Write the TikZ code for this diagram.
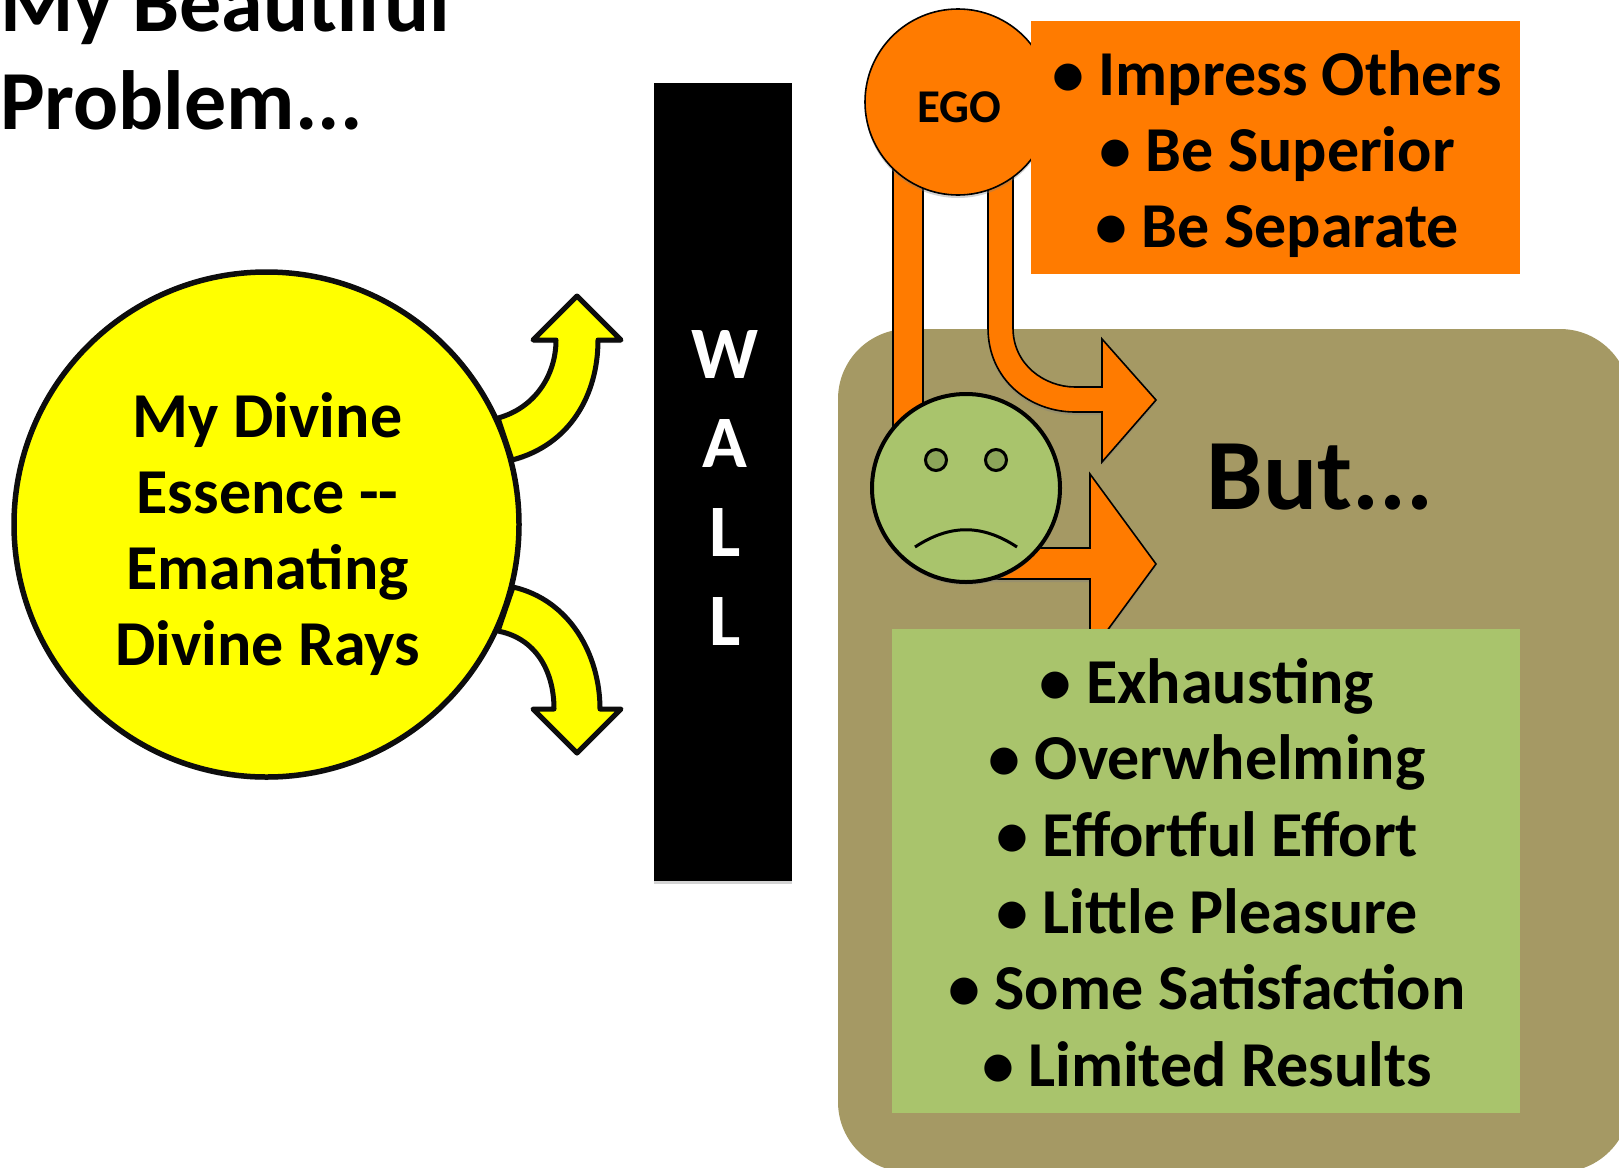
\documentclass[tikz,border=0pt]{standalone}
\usepackage{fontspec}
\setmainfont{Carlito}
\usetikzlibrary{shadows}
\definecolor{tanbox}{HTML}{A59964}
\definecolor{greenbox}{HTML}{A9C46C}
\definecolor{darkgreen}{HTML}{8CA65A}
\definecolor{egoorange}{HTML}{FF7B00}
\definecolor{rayyellow}{HTML}{FFFF00}
\tikzset{
  softshadow/.style={drop shadow={shadow xshift=0pt,shadow yshift=-3pt,opacity=.35}},
  rayarrow/.style={draw=black!95,fill=rayyellow,line width=5pt,line join=round,softshadow},
  egoarrow/.style={draw=black,fill=egoorange,line width=1.6pt,softshadow}
}
\newcommand{\bigtext}[2]{\fontsize{#1}{#2}\selectfont\bfseries}
\begin{document}
\begin{tikzpicture}[x=1pt,y=-1pt]
  \useasboundingbox (0,0) rectangle (1619,1167);

  \node[anchor=base west,align=left,inner sep=0pt,font=\bigtext{84}{98}] (title) at (0,129)
    {My Beautiful\\Problem...};

  % yellow rays
  \path[rayarrow] (512,460) .. controls (570,445) and (598,395) .. (598,340) -- (621,340)
    -- (577,296) -- (533,340) -- (556,340) .. controls (556,375) and (535,408) .. (498,418) -- cycle;
  \path[rayarrow] (513,587) .. controls (570,600) and (600,655) .. (600,709) -- (621,709)
    -- (577,753) -- (533,709) -- (554,709) .. controls (554,670) and (535,638) .. (498,631) -- cycle;
  \node[circle,draw=black!95,fill=rayyellow,line width=5.5pt,minimum size=505pt,inner sep=0pt,
    softshadow] (divine) at (266.5,524.5) {};
  \node[align=center,font=\bigtext{64}{76}] (divinelabel) at (267.5,534)
    {My Divine\\Essence -{}-\\Emanating\\Divine Rays};

  \node[fill=black,minimum width=138pt,minimum height=798pt,inner sep=0pt,softshadow] (wall) at (723,482) {};
  \node[text=white,align=center,font=\bigtext{74}{89}] (walllabel) at (725,488) {W\\A\\L\\L};

  \fill[tanbox,rounded corners=70pt] (838,329) rectangle (1630,1172);

  % ego arrows
  \path[egoarrow] (893,170) rectangle (923,430);
  \path[egoarrow] (988,170) -- (988,328) .. controls (988,380) and (1030,412) .. (1075,412)
    -- (1102,412) -- (1102,462) -- (1156,400) -- (1102,339) -- (1102,387) -- (1075,387)
    .. controls (1045,387) and (1013,365) .. (1013,328) -- (1013,170) -- cycle;
  \path[egoarrow] (960,548) -- (1090,548) -- (1090,474) -- (1156,564) -- (1090,654)
    -- (1090,579) -- (960,579) -- cycle;

  \node[circle,draw=black,fill=egoorange,line width=1.6pt,minimum size=186pt,inner sep=0pt,
    softshadow] (ego) at (958,102) {};
  \node[font=\bigtext{47}{50}] (egolabel) at (959,107) {EGO};
  \node[fill=egoorange,minimum width=489pt,minimum height=253pt,inner sep=0pt] (wants) at (1275.5,147.5) {};
  \node[align=center,font=\bigtext{64}{76}] (wantslabel) at (1277,154.5)
    {•~Impress Others\\•~Be Superior\\•~Be Separate};

  % sad face
  \node[circle,draw=black,fill=greenbox,line width=4pt,minimum size=188pt,inner sep=0pt,
    softshadow] (face) at (966,488) {};
  \node[circle,draw=black,fill=darkgreen,line width=3pt,minimum size=21pt,inner sep=0pt] (lefteye) at (936,460) {};
  \node[circle,draw=black,fill=darkgreen,line width=3pt,minimum size=21pt,inner sep=0pt] (righteye) at (996,460) {};
  \coordinate (mouthl) at (915,547);
  \coordinate (mouthr) at (1017,547);
  \draw[line width=3pt] (mouthl) .. controls (950,524) and (982,524) .. (mouthr);

  \node[font=\bigtext{101}{110}] (but) at (1320,477) {But...};

  \node[fill=greenbox,minimum width=628pt,minimum height=484pt,inner sep=0pt] (results) at (1206,871) {};
  \node[align=center,font=\bigtext{64}{76.7}] (resultslabel) at (1207,872.5)
    {•~Exhausting\\•~Overwhelming\\•~Effortful Effort\\•~Little Pleasure\\•~Some Satisfaction\\•~Limited Results};
\end{tikzpicture}
\end{document}
